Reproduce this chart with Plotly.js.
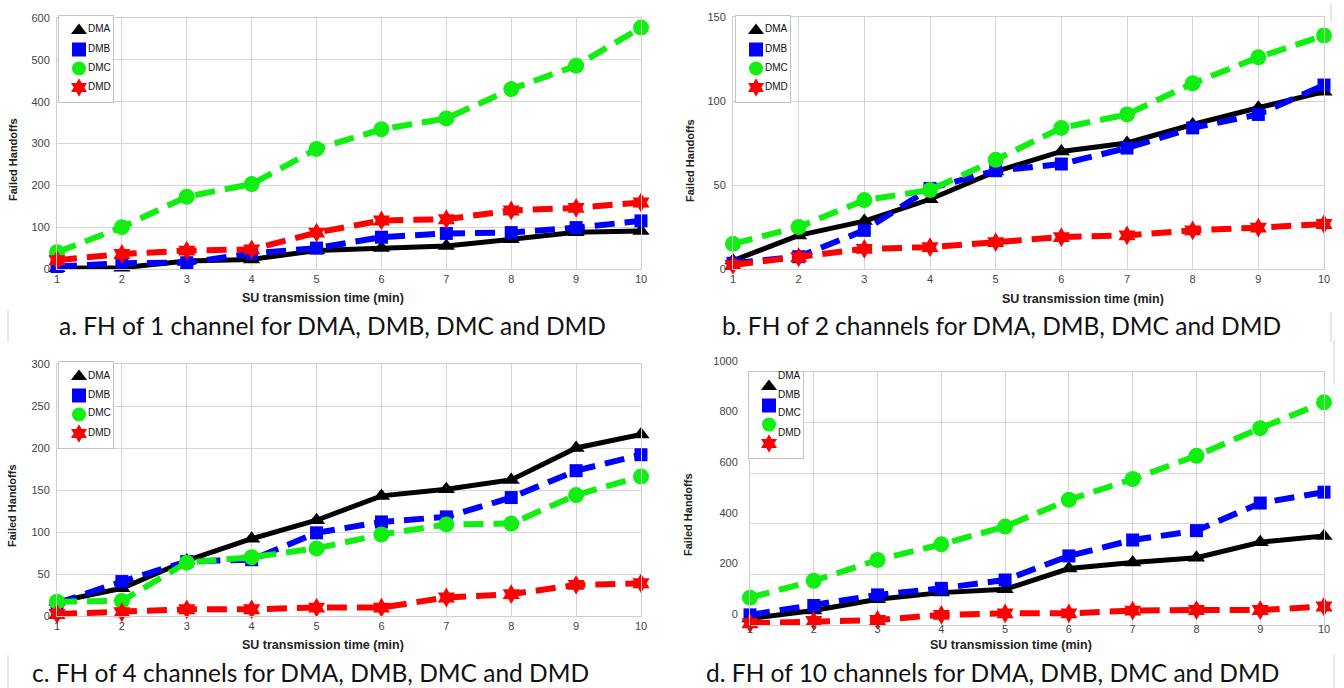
<!DOCTYPE html>
<html>
<head>
<meta charset="utf-8">
<script src="https://cdn.plot.ly/plotly-3.0.1.min.js"></script>
<style>html,body{margin:0;padding:0;background:#fff;}#chart{width:1344px;height:688px;}</style>
</head>
<body>
<div id="chart"></div>
<script>
// ---- data ----
var times = [1, 2, 3, 4, 5, 6, 7, 8, 9, 10];
var seriesNames = ["DMA", "DMB", "DMC", "DMD"];

// a. 1 channel
var ch1_DMA = [2, 3, 19, 23, 44, 50, 55, 71, 88, 91];
var ch1_DMB = [6, 14, 15, 37, 50, 76, 85, 87, 99, 115];
var ch1_DMC = [40, 100, 173, 203, 287, 334, 360, 430, 486, 577];
var ch1_DMD = [21, 36, 44, 47, 87, 116, 119, 140, 146, 159];

// b. 2 channels
var ch2_DMA = [5, 20, 28.5, 41.5, 58, 70, 75, 86, 96, 105.5];
var ch2_DMB = [3.4, 7.3, 23, 48, 58.5, 62.5, 72, 84, 92, 109.5];
var ch2_DMC = [15, 25, 41, 47, 65, 84, 92, 110.5, 126, 139];
var ch2_DMD = [2.4, 7, 12, 13, 16, 19, 20, 23, 24.6, 26.8];

// c. 4 channels
var ch4_DMA = [17, 33, 66, 92, 114, 143, 151, 162, 200, 216];
var ch4_DMB = [15, 41, 65, 67, 99, 112, 118, 141, 173, 192];
var ch4_DMC = [17, 18, 63.5, 70, 80.5, 97, 109, 110, 144, 166];
var ch4_DMD = [2.4, 4.4, 8, 8, 10, 10, 22, 26, 37, 39];

// d. 10 channels
var ch10_DMA = [26, 57, 102, 128, 141, 223, 247, 266, 327, 352];
var ch10_DMB = [40, 77, 119, 145, 178, 273, 336, 373, 482, 525];
var ch10_DMC = [108, 175, 257, 319, 389, 495, 577, 669, 778, 880];
var ch10_DMD = [7, 16, 20, 40, 46, 46, 57, 59, 59, 73];

var captions = [
  "a. FH of 1 channel for DMA, DMB, DMC and DMD",
  "b. FH of 2 channels for DMA, DMB, DMC and DMD",
  "c. FH of 4 channels for DMA, DMB, DMC and DMD",
  "d. FH of 10 channels for DMA, DMB, DMC and DMD"
];
var xTitle = "SU transmission time (min)";
var yTitle = "Failed Handoffs";
var yMax = [600, 150, 300, 1000];
var yStep = [100, 50, 50, 200];

// ---- styling ----
var W = 1344, H = 688;
function px(x) { return x / W; }
function py(y) { return 1 - y / H; }

var styles = [
  {color: "#000000", symbol: "triangle-up", size: 15, dash: "solid", width: 5},
  {color: "#0000ff", symbol: "square", size: 13, dash: "20px,10px", width: 6},
  {color: "#11ee11", symbol: "circle", size: 16, dash: "20px,10px", width: 6},
  {color: "#ff0000", symbol: "hexagram", size: 15, dash: "20px,10px", width: 6}
];

// leg: [legend box left, legend box top]; legText: y of each legend label (px)
var panels = [
  {data: [ch1_DMA, ch1_DMB, ch1_DMC, ch1_DMD], x0: 57, x1: 641, top: 18, bot: 269, leg: [58, 15], legTextDy: 0, ytitle: [13, 160], xtitle: [323, 298], cap: [57, 325]},
  {data: [ch2_DMA, ch2_DMB, ch2_DMC, ch2_DMD], x0: 733, x1: 1324, top: 17, bot: 269, leg: [735, 15], legTextDy: 0, ytitle: [690, 160], xtitle: [1083, 299], cap: [720, 325]},
  {data: [ch4_DMA, ch4_DMB, ch4_DMC, ch4_DMD], x0: 57, x1: 641, top: 364, bot: 616, leg: [58, 361], legTextDy: 0, ytitle: [12, 506], xtitle: [323, 645], cap: [30, 672]},
  {data: [ch10_DMA, ch10_DMB, ch10_DMC, ch10_DMD], x0: 750, x1: 1324, top: 372, bot: 625, leg: [748, 371], legTextDy: -10, ytitle: [688, 515], xtitle: [1011, 645], cap: [704, 672]}
];

var tickFont = {family: "Liberation Sans Narrow, Arial Narrow, Liberation Sans, sans-serif", size: 11, color: "#444"};
var legFont = {family: "Liberation Sans, Arial, sans-serif", size: 10, color: "#111"};
var traces = [];
var layout = {
  width: W, height: H,
  margin: {l: 0, r: 0, t: 0, b: 0},
  paper_bgcolor: "#ffffff", plot_bgcolor: "#ffffff",
  showlegend: true,
  annotations: [],
  shapes: []
};

panels.forEach(function (p, i) {
  var n = i === 0 ? "" : String(i + 1);
  var xa = "x" + n, ya = "y" + n;
  var legName = i === 0 ? "legend" : "legend" + (i + 1);
  layout["xaxis" + n] = {
    domain: [px(p.x0), px(p.x1)], anchor: ya,
    range: [1, 10], dtick: 1, tick0: 1,
    showgrid: true, gridcolor: "#d6d6d6", gridwidth: 1,
    zeroline: false, showline: true, mirror: true, linecolor: "#cfcfcf", linewidth: 1,
    ticks: "", tickfont: tickFont, ticklabelstandoff: i === 3 ? -6 : 0,
    fixedrange: true
  };
  layout["yaxis" + n] = {
    domain: [py(p.bot), py(p.top)], anchor: xa,
    range: [0, yMax[i]], dtick: yStep[i], tick0: 0,
    showgrid: true, gridcolor: "#d6d6d6", gridwidth: 1,
    zeroline: false, showline: true, mirror: true, linecolor: "#cfcfcf", linewidth: 1,
    ticks: "", tickfont: tickFont,
    ticklabelstandoff: i === 3 ? 9 : 4,
    ticklabelshift: i === 3 ? -11 : 0,
    fixedrange: true
  };
  // data traces
  p.data.forEach(function (vals, k) {
    var s = styles[k];
    traces.push({
      type: "scatter", mode: "lines+markers", x: times, y: vals,
      xaxis: xa, yaxis: ya, name: seriesNames[k], showlegend: false,
      cliponaxis: false,
      line: {color: s.color, width: s.width, dash: s.dash},
      marker: {color: s.color, symbol: s.symbol, size: s.size, line: {width: 0}}
    });
  });
  // legend entries (marker symbols only; the labels are placed next to them)
  seriesNames.forEach(function (nm, k) {
    var s = styles[k];
    traces.push({
      type: "scatter", mode: "markers", x: [null], y: [null],
      xaxis: xa, yaxis: ya,
      name: "\u00a0\u00a0\u00a0",
      legend: legName, showlegend: true,
      marker: {color: s.color, symbol: s.symbol, size: 14, line: {width: 0}}
    });
    // label of the legend entry
    var symY = p.leg[1] + 14 + 19 * k;
    layout.annotations.push({
      xref: "paper", yref: "paper", x: px(p.leg[0] + 28), y: py(symY + p.legTextDy),
      xanchor: "left", yanchor: "middle", showarrow: false, text: nm, font: legFont
    });
  });
  layout[legName] = {
    x: px(p.leg[0]), y: py(p.leg[1]), xanchor: "left", yanchor: "top",
    xref: "paper", yref: "paper",
    bgcolor: "#ffffff", bordercolor: "#c4c4c4", borderwidth: 1,
    font: legFont,
    itemsizing: "trace", itemclick: false, itemdoubleclick: false,
    tracegroupgap: 0
  };
  // axis titles
  layout.annotations.push({
    xref: "paper", yref: "paper", x: px(p.ytitle[0]), y: py(p.ytitle[1]),
    xanchor: "center", yanchor: "middle", textangle: -90, showarrow: false,
    text: "<b>" + yTitle + "</b>",
    font: {family: "Liberation Sans, Arial, sans-serif", size: 11, color: "#222"}
  });
  layout.annotations.push({
    xref: "paper", yref: "paper", x: px(p.xtitle[0]), y: py(p.xtitle[1]),
    xanchor: "center", yanchor: "middle", showarrow: false,
    text: "<b>" + xTitle + "</b>",
    font: {family: "Liberation Sans Narrow, Arial Narrow, Liberation Sans, sans-serif", size: 12.5, color: "#222"}
  });
  // captions
  layout.annotations.push({
    xref: "paper", yref: "paper", x: px(p.cap[0]), y: py(p.cap[1]),
    xanchor: "left", yanchor: "middle", showarrow: false,
    text: captions[i],
    font: {family: "Lato, Open Sans, sans-serif", size: 24.5, color: "#111"}
  });
});

// thin separator marks from the original figure
[[8, 310, 8, 342], [8, 655, 8, 688], [1331, 4, 1331, 22], [1331, 312, 1331, 342], [1334, 340, 1334, 385], [1334, 655, 1334, 688]].forEach(function (s) {
  layout.shapes.push({type: "line", xref: "paper", yref: "paper",
    x0: px(s[0]), y0: py(s[1]), x1: px(s[2]), y1: py(s[3]),
    line: {color: "#d0d0d0", width: 1}});
});

Plotly.newPlot("chart", traces, layout, {displayModeBar: false, staticPlot: true});
</script>
</body>
</html>
